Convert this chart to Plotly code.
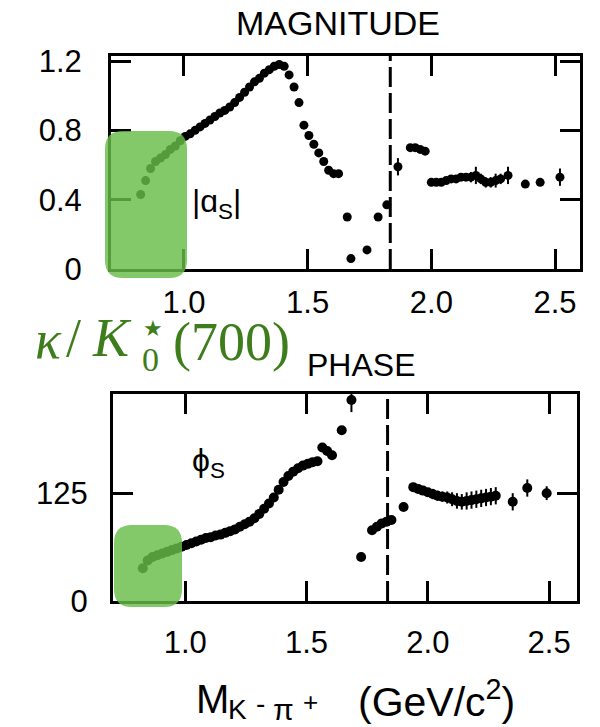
import plotly.graph_objects as go

W, H = 600, 727

# ---------------- data ----------------
mag_mass = [0.825, 0.845, 0.865, 0.885, 0.905, 0.925, 0.945, 0.965, 0.985,
            1.005, 1.025, 1.045, 1.065, 1.085, 1.105, 1.125, 1.145, 1.165, 1.185,
            1.205, 1.225, 1.245, 1.265, 1.285, 1.305, 1.325, 1.345, 1.365, 1.385,
            1.405, 1.425, 1.445, 1.465, 1.485, 1.505, 1.525, 1.545, 1.565, 1.585,
            1.605, 1.625,
            1.66, 1.675, 1.74, 1.785, 1.82, 1.865, 1.915, 1.935, 1.955, 1.975,
            2.00, 2.02, 2.04, 2.06, 2.08, 2.10, 2.12, 2.14, 2.16, 2.18, 2.20,
            2.22, 2.24, 2.26, 2.28, 2.31, 2.38, 2.44, 2.52]
mag_value = [0.43, 0.51, 0.58, 0.62, 0.64, 0.66, 0.69, 0.71, 0.74,
             0.765, 0.78, 0.80, 0.82, 0.84, 0.86, 0.88, 0.90, 0.915, 0.935,
             0.96, 0.99, 1.02, 1.05, 1.08, 1.10, 1.13, 1.15, 1.17, 1.18,
             1.17, 1.12, 1.05, 0.96, 0.83, 0.77, 0.72, 0.67, 0.62, 0.57,
             0.55, 0.55,
             0.30, 0.06, 0.11, 0.30, 0.37, 0.59, 0.70, 0.70, 0.69, 0.68,
             0.50, 0.50, 0.50, 0.51, 0.52, 0.52, 0.53, 0.53, 0.53, 0.54, 0.52,
             0.50, 0.50, 0.51, 0.52, 0.54, 0.49, 0.50, 0.53]
mag_error = [0.01] * 41 + [0.02, 0.02, 0.02, 0.02, 0.02, 0.05, 0.02, 0.02, 0.02, 0.02,
                           0.02, 0.02, 0.02, 0.02, 0.02, 0.02, 0.02, 0.02, 0.03, 0.05, 0.03,
                           0.03, 0.03, 0.04, 0.03, 0.05, 0.02, 0.02, 0.05]

phase_mass = [0.825, 0.845, 0.865, 0.885, 0.905, 0.925, 0.945, 0.965, 0.985,
              1.005, 1.025, 1.045, 1.065, 1.085, 1.105, 1.125, 1.145, 1.165, 1.185,
              1.205, 1.225, 1.245, 1.265, 1.285, 1.305, 1.325, 1.345, 1.365, 1.385,
              1.405, 1.425, 1.445, 1.465, 1.485, 1.505, 1.525, 1.545,
              1.565, 1.585, 1.605, 1.645, 1.685, 1.725, 1.77, 1.79, 1.81, 1.83, 1.85,
              1.90, 1.94, 1.96, 1.98, 2.00, 2.02, 2.04, 2.06, 2.08, 2.10, 2.12, 2.14,
              2.16, 2.18, 2.20, 2.22, 2.24, 2.26, 2.28, 2.35, 2.41, 2.49]
phase_value = [38, 47, 51, 53, 55, 57, 59, 61, 63,
               65, 67, 69, 71, 73, 74, 76, 77, 79, 81,
               83, 86, 89, 92, 96, 101, 107, 113, 120, 129,
               138, 145, 150, 154, 157, 159, 161, 162,
               178, 174, 169, 198, 233, 51, 82, 86, 90, 92, 94,
               109, 132, 130, 128, 126, 124, 122, 121, 120, 118, 116, 115,
               116, 117, 118, 119, 120, 121, 122, 115, 131, 125]
phase_error = [3] * 37 + [4, 4, 4, 4, 14, 4, 4, 4, 4, 4, 4,
                          4, 5, 5, 5, 5, 6, 6, 6, 7, 8, 9, 9,
                          10, 10, 10, 10, 10, 10, 10, 10, 10, 8]

x_tick_vals = [1.0, 1.5, 2.0, 2.5]
x_tick_text = ["1.0", "1.5", "2.0", "2.5"]
mag_tick_vals = [0, 0.4, 0.8, 1.2]
mag_tick_text = ["0", "0.4", "0.8", "1.2"]
phase_tick_vals = [0, 125]
phase_tick_text = ["0", "125"]
threshold_mass = 1.834

# ---------------- helpers ----------------
def px(x):
    return x / W

def py(y):
    return 1 - y / H

def rounded_rect(x0, y0, x1, y1, r):
    return (f"M {px(x0 + r)},{py(y0)} L {px(x1 - r)},{py(y0)} "
            f"Q {px(x1)},{py(y0)} {px(x1)},{py(y0 + r)} "
            f"L {px(x1)},{py(y1 - r)} Q {px(x1)},{py(y1)} {px(x1 - r)},{py(y1)} "
            f"L {px(x0 + r)},{py(y1)} Q {px(x0)},{py(y1)} {px(x0)},{py(y1 - r)} "
            f"L {px(x0)},{py(y0 + r)} Q {px(x0)},{py(y0)} {px(x0 + r)},{py(y0)} Z")

SANS = "Liberation Sans, Arial, sans-serif"
SERIF = "Liberation Serif, Times New Roman, serif"
GREEN_TXT = "#3e7d1c"

fig = go.Figure()

marker = dict(color="black", size=9, symbol="circle")
fig.add_trace(go.Scatter(
    x=mag_mass, y=mag_value, mode="markers", marker=marker,
    error_y=dict(type="data", array=mag_error, color="black", thickness=2, width=0),
    xaxis="x", yaxis="y", showlegend=False))
fig.add_trace(go.Scatter(
    x=phase_mass, y=phase_value, mode="markers", marker=dict(marker, size=10),
    error_y=dict(type="data", array=phase_error, color="black", thickness=2, width=0),
    xaxis="x2", yaxis="y2", showlegend=False))

axis_common = dict(showgrid=False, zeroline=False, showline=True, linewidth=3,
                   linecolor="black", mirror="ticks", ticks="inside", ticklen=20,
                   tickwidth=2.5, tickcolor="black", automargin=False,
                   tickfont=dict(family=SANS, size=31, color="black"))

fig.update_layout(
    width=W, height=H, margin=dict(l=0, r=0, t=0, b=0),
    paper_bgcolor="white", plot_bgcolor="white", showlegend=False,
    xaxis=dict(axis_common, domain=[px(111), px(580)], range=[0.705, 2.601],
               tickvals=x_tick_vals, ticktext=x_tick_text, anchor="y",
               ticklabelstandoff=4),
    yaxis=dict(axis_common, domain=[py(269), py(56)], range=[0, 1.229],
               tickvals=mag_tick_vals, ticktext=mag_tick_text, anchor="x",
               ticklabelstandoff=20),
    xaxis2=dict(axis_common, domain=[px(113), px(577)], range=[0.702, 2.615],
                tickvals=x_tick_vals, ticktext=x_tick_text, anchor="y2",
                ticklabelstandoff=12),
    yaxis2=dict(axis_common, domain=[py(601), py(394)], range=[0, 240],
                tickvals=phase_tick_vals, ticktext=phase_tick_text, anchor="x2",
                ticklabelstandoff=16),
)

shapes = [
    dict(type="line", xref="x", yref="y domain", x0=threshold_mass, x1=threshold_mass,
         y0=0, y1=1, line=dict(color="black", width=3, dash="20px,6px")),
    dict(type="line", xref="x2", yref="y2 domain", x0=threshold_mass, x1=threshold_mass,
         y0=0, y1=1, line=dict(color="black", width=3, dash="20px,6px")),
    dict(type="path", xref="paper", yref="paper", path=rounded_rect(105, 131, 187, 278, 18),
         fillcolor="rgba(104,188,72,0.82)", line=dict(width=0)),
    dict(type="path", xref="paper", yref="paper", path=rounded_rect(114, 525, 182, 607, 18),
         fillcolor="rgba(104,188,72,0.82)", line=dict(width=0)),
]
fig.update_layout(shapes=shapes)

def ann(text, x, y, size, family=SANS, color="black", xanchor="center", yanchor="middle"):
    return dict(text=text, x=px(x), y=py(y), xref="paper", yref="paper",
                showarrow=False, xanchor=xanchor, yanchor=yanchor,
                font=dict(family=family, size=size, color=color))

annotations = [
    ann("MAGNITUDE", 338, 23, 34),
    ann("PHASE", 361, 365, 32),
    ann("|ɑ<sub>S</sub>|", 216, 203, 32),
    ann("ϕ<sub>S</sub>", 190, 462, 32, xanchor="left"),
    # x-axis title  M_{K^- pi^+}  (GeV/c^2)
    ann("M", 194, 699, 40, xanchor="left"),
    ann("K", 237, 709, 28),
    ann("-", 260, 703, 28),
    ann("π", 283, 709, 30),
    ann("+", 310, 702, 26),
    ann("(GeV/c<sup>2</sup>)", 356, 699, 41, xanchor="left"),
    # green kappa label
    ann("<i>κ</i>", 33, 340, 54, family=SERIF, color=GREEN_TXT, xanchor="left"),
    ann("/", 64, 338, 54, family=SERIF, color=GREEN_TXT, xanchor="left"),
    ann("<i>K</i>", 90, 338, 54, family=SERIF, color=GREEN_TXT, xanchor="left"),
    ann("★", 153, 328, 22, family="DejaVu Sans", color=GREEN_TXT),
    ann("0", 150, 360, 34, family=SERIF, color=GREEN_TXT),
    ann("(700)", 171, 342, 54, family=SERIF, color=GREEN_TXT, xanchor="left"),
]
fig.update_layout(annotations=annotations)

fig.write_html("out.html")
